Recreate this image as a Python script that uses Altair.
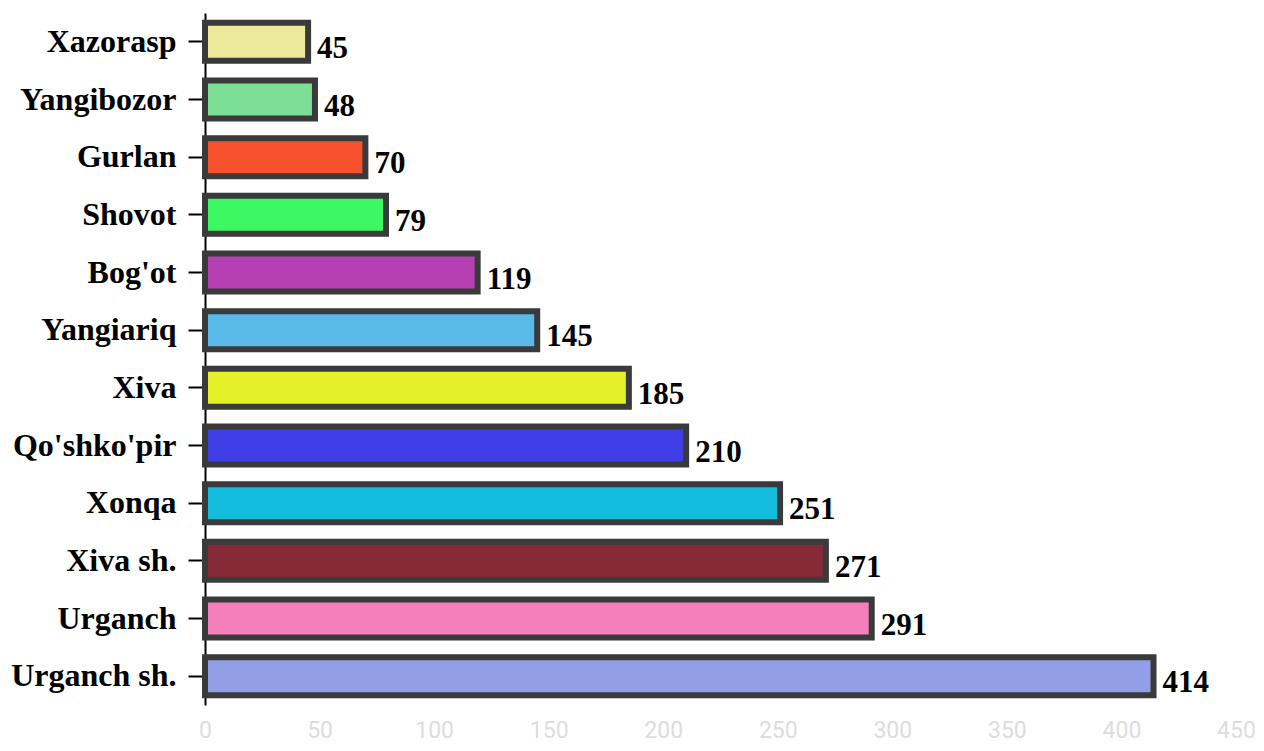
import altair as alt
import pandas as pd

districts = ["Xazorasp", "Yangibozor", "Gurlan", "Shovot", "Bog'ot", "Yangiariq",
             "Xiva", "Qo'shko'pir", "Xonqa", "Xiva sh.", "Urganch", "Urganch sh."]
values = [45, 48, 70, 79, 119, 145, 185, 210, 251, 271, 291, 414]
colors = ["#ece99c", "#7ddf95", "#f7502d", "#3df763", "#b440b3", "#5bbbe8",
          "#e4f028", "#403ee6", "#13bcdc", "#862a37", "#f47fba", "#929fe6"]

df = pd.DataFrame({"district": districts, "value": values})

y_enc = alt.Y("district:N", sort=districts, title=None,
              scale=alt.Scale(paddingInner=0, paddingOuter=0),
              axis=alt.Axis(labelFont="Liberation Serif", labelFontWeight="bold",
                            labelFontSize=32, labelColor="#000000",
                            labelPadding=12, tickSize=17, tickColor="#000000",
                            tickWidth=2, domainColor="#000000", domainWidth=2,
                            grid=False))
x_enc = alt.X("value:Q", title=None,
              scale=alt.Scale(domain=[0, 450], nice=False),
              axis=alt.Axis(values=list(range(0, 451, 50)), domain=False,
                            ticks=False, grid=False, labelFont="Roboto",
                            labelFontSize=23, labelColor="#dddddd",
                            labelPadding=14, labelFlush=False))

bars = alt.Chart(df).mark_bar(size=38, stroke="#3a3a3a", strokeWidth=6).encode(
    y=y_enc, x=x_enc,
    color=alt.Color("district:N", scale=alt.Scale(domain=districts, range=colors),
                    legend=None),
)
labels = alt.Chart(df).mark_text(align="left", baseline="middle", dx=9, dy=7,
                                 font="Liberation Serif", fontWeight="bold",
                                 fontSize=31, color="#000000").encode(
    y=alt.Y("district:N", sort=districts),
    x=alt.X("value:Q"),
    text=alt.Text("value:Q"),
)

chart = (bars + labels).properties(
    width=1031, height=692,
    autosize=alt.AutoSizeParams(type="none"),
    padding={"left": 197, "top": 5, "right": 20, "bottom": 38},
).configure_view(stroke=None)

chart.save("out.html", embed_options={"renderer": "svg", "actions": False})
